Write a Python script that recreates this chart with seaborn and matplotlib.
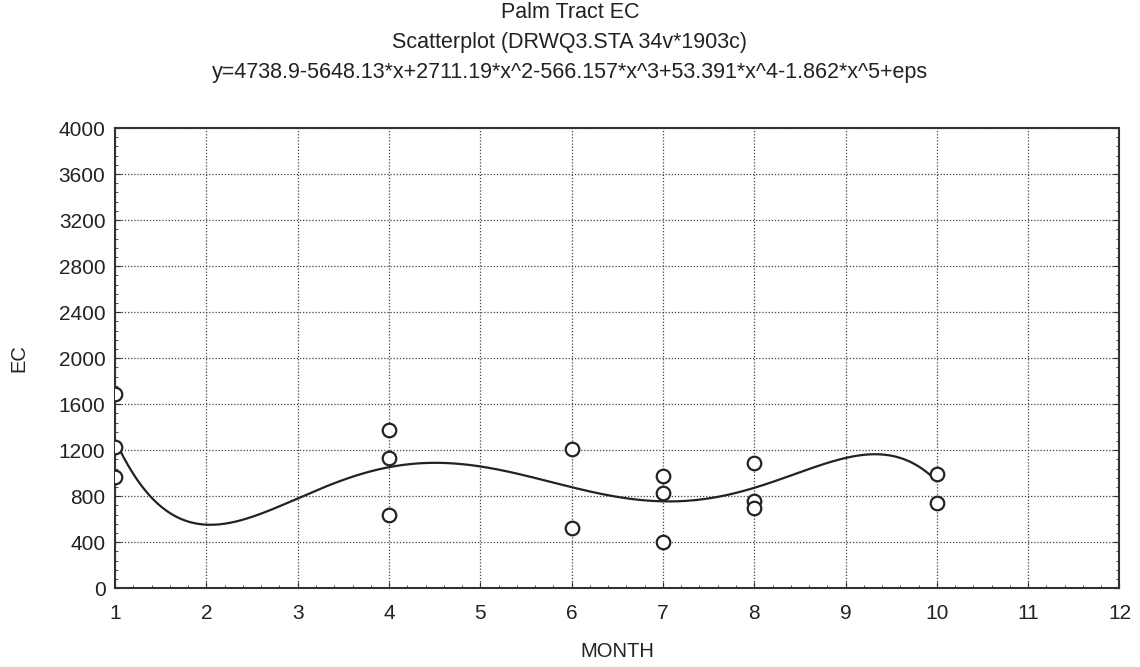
import numpy as np
import pandas as pd
import matplotlib
matplotlib.use("Agg")
import matplotlib.pyplot as plt
from matplotlib.ticker import AutoMinorLocator
import seaborn as sns

# titik data EC per bulan
month = [1, 1, 1, 4, 4, 4, 6, 6, 7, 7, 7, 8, 8, 8, 10, 10]
ec = [1690, 1230, 965, 1375, 1130, 635, 1210, 520, 975, 825, 400, 1085, 755, 695, 990, 740]

# koefisien polinom dari judul (x^0 .. x^5)
coef = [4738.9, -5648.13, 2711.19, -566.157, 53.391, -1.862]

df = pd.DataFrame({"MONTH": month, "EC": ec})
xs = np.linspace(min(month), max(month), 300)
fit = pd.DataFrame({"MONTH": xs, "EC": np.polyval(coef[::-1], xs)})

sns.set_style("white", {"xtick.bottom": True, "ytick.left": True})
plt.rcParams["font.family"] = ["Liberation Sans", "DejaVu Sans"]

fig, ax = plt.subplots(figsize=(11.4, 6.67), dpi=100)
fig.subplots_adjust(left=0.101, right=0.982, top=0.808, bottom=0.118)

sns.lineplot(data=fit, x="MONTH", y="EC", color="#222222", lw=1.6, ax=ax)
sns.scatterplot(data=df, x="MONTH", y="EC", marker="o", s=95,
                facecolor="white", edgecolor="#222222", linewidth=1.6,
                zorder=5, ax=ax)

ax.set_xlim(1, 12)
ax.set_ylim(0, 4000)
ax.set_xticks(range(1, 13))
ax.set_yticks(range(0, 4001, 400))
ax.xaxis.set_minor_locator(AutoMinorLocator(5))
ax.yaxis.set_minor_locator(AutoMinorLocator(5))
ax.tick_params(which="both", direction="in", labelsize=15, color="#333333",
               labelcolor="#222222", bottom=True, left=True, right=True)
ax.tick_params(which="major", length=4)
ax.tick_params(which="minor", length=2.5)
ax.tick_params(axis="x", which="major", pad=11)
ax.tick_params(axis="y", which="major", pad=7)
ax.grid(True, which="major", linestyle=(0, (1, 1.5)), color="#444444", lw=0.9)
for s in ax.spines.values():
    s.set_color("#333333")
    s.set_linewidth(1.5)

ax.set_xlabel("MONTH", fontsize=14.5, labelpad=14, color="#222222")
ax.set_ylabel("EC", fontsize=14.5, labelpad=22, color="#222222")

fig.text(0.5, 0.982, "Palm Tract EC", ha="center", va="center", fontsize=15.5, color="#222222")
fig.text(0.5, 0.937, "Scatterplot (DRWQ3.STA 34v*1903c)", ha="center", va="center",
         fontsize=15.5, color="#222222")
fig.text(0.5, 0.892, "y=4738.9-5648.13*x+2711.19*x^2-566.157*x^3+53.391*x^4-1.862*x^5+eps",
         ha="center", va="center", fontsize=15.5, color="#222222")

fig.savefig("out.png", dpi=100)
